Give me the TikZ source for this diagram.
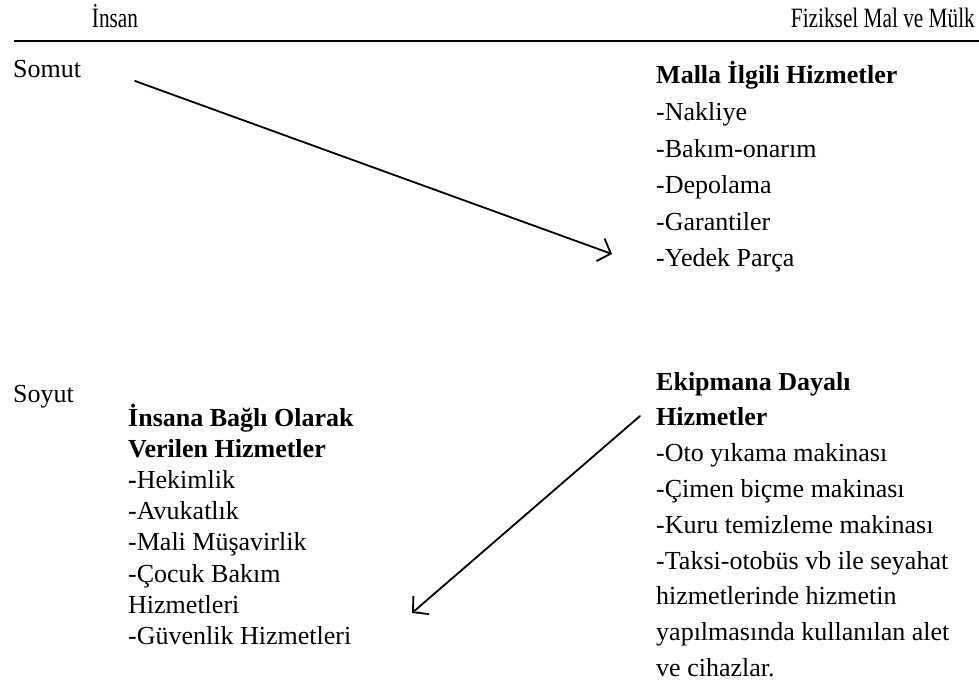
\documentclass[tikz,border=0pt]{standalone}
\usepackage{fontspec}
\setmainfont{Liberation Serif}
\newfontfamily\headfont[FakeStretch=0.76]{Liberation Serif}
\usetikzlibrary{arrows.meta}
\tikzset{
  body/.style={anchor=base west, inner sep=0pt, font=\fontsize{26}{30}\selectfont},
  bodybf/.style={anchor=base west, inner sep=0pt, font=\fontsize{26}{30}\selectfont\bfseries},
  head/.style={inner sep=0pt, font=\headfont\fontsize{28}{30}\selectfont},
  link/.style={line width=1.8pt, line cap=round,
    -{Straight Barb[length=11pt,width=24pt,line width=1.8pt]}}
}
\begin{document}
\begin{tikzpicture}[x=1pt,y=-1pt]
\useasboundingbox (0,0) rectangle (979,692);

% column headings and rule
\node[head, anchor=base] (hl) at (115,28) {İnsan};
\node[head, anchor=base east] (hr) at (975,28) {Fiziksel Mal ve Mülk};
\coordinate (r0) at (14,41);
\coordinate (r1) at (979,41);
\draw[line width=2.4pt] (r0) -- (r1);

% row labels
\node[body] (somut) at (13,78) {Somut};
\node[body] (soyut) at (13,402) {Soyut};

% goods-related services
\node[bodybf] (m0) at (656,84) {Malla İlgili Hizmetler};
\foreach \t [count=\i] in {-Nakliye,-Bakım-onarım,-Depolama,-Garantiler,-Yedek Parça}
  \node[body] (m\i) at (656,84+36.6*\i) {\t};

% equipment-based services
\node[bodybf] (e0) at (656,390) {Ekipmana Dayalı};
\node[bodybf] (e1) at (656,425.8) {Hizmetler};
\foreach \t [count=\i from 2] in {-Oto yıkama makinası,-Çimen biçme makinası,-Kuru temizleme makinası,-Taksi-otobüs vb ile seyahat,hizmetlerinde hizmetin,yapılmasında kullanılan alet,ve cihazlar.}
  \node[body] (e\i) at (656,390+35.8*\i) {\t};

% people-based services
\node[bodybf] (p0) at (128,426) {İnsana Bağlı Olarak};
\node[bodybf] (p1) at (128,457.2) {Verilen Hizmetler};
\node[body] (p2) at (128,488.4) {\textbf{-}Hekimlik};
\foreach \t [count=\i from 3] in {-Avukatlık,-Mali Müşavirlik,-Çocuk Bakım,Hizmetleri,-Güvenlik Hizmetleri}
  \node[body] (p\i) at (128,426+31.2*\i) {\t};

% arrows
\coordinate (a1s) at (135,81);
\coordinate (a1e) at (612,254);
\coordinate (a2s) at (640,416);
\coordinate (a2e) at (412,613);
\draw[link] (a1s) -- (a1e);
\draw[link] (a2s) -- (a2e);
\end{tikzpicture}
\end{document}
